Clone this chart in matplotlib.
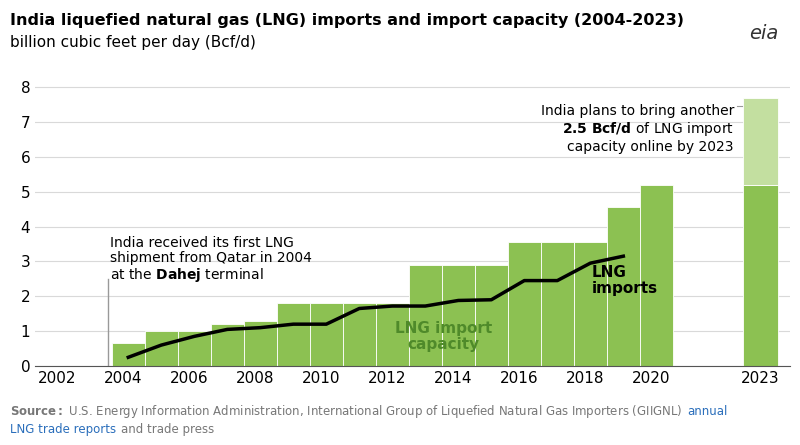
import matplotlib
matplotlib.use("Agg")
import matplotlib.pyplot as plt

years = [2004,2005,2006,2007,2008,2009,2010,2011,2012,2013,2014,2015,2016,2017,2018,2019,2020]
capacity = [0.65,1.0,1.0,1.2,1.3,1.8,1.8,1.8,1.8,2.9,2.9,2.9,3.55,3.55,3.55,4.55,5.2]
imp_years = [2004,2005,2006,2007,2008,2009,2010,2011,2012,2013,2014,2015,2016,2017,2018,2019]
imports = [0.25,0.6,0.85,1.05,1.1,1.2,1.2,1.65,1.72,1.72,1.88,1.9,2.45,2.45,2.95,3.15]
cap2023 = 5.2
planned2023 = 2.5
tick_labels = ["2002","2004","2006","2008","2010","2012","2014","2016","2018","2020","2023"]

POS2023 = 2023.3
green = "#8cc152"
light = "#c3dfa0"

fig = plt.figure(figsize=(8, 4.45), dpi=100)
ax = fig.add_axes([0.044, 0.1775, 0.9435, 0.6425])
ax.set_xlim(2001.33, 2024.2)
ax.set_ylim(0, 8.2)
ax.set_yticks(range(0, 9))
ax.grid(axis="y", color="#d9d9d9", lw=0.8)
ax.set_axisbelow(True)
ax.bar([y + 0.15 for y in years], capacity, width=1.0, color=green, edgecolor="white", lw=0.6)
ax.bar([POS2023], [cap2023], width=1.05, color=green, edgecolor="white", lw=0.6)
ax.bar([POS2023], [planned2023], bottom=[cap2023], width=1.05, color=light, edgecolor="white", lw=0.6)
ax.plot([y + 0.15 for y in imp_years], imports, color="black", lw=2.5)

ticks = [2002,2004,2006,2008,2010,2012,2014,2016,2018,2020,POS2023]
ax.set_xticks(ticks)
ax.set_xticklabels(tick_labels, fontsize=11)
ax.tick_params(axis="y", labelsize=11, length=0)
ax.tick_params(axis="x", length=0)
for s in ["top", "right", "left"]:
    ax.spines[s].set_visible(False)
ax.spines["bottom"].set_color("#555555")

ax.plot([2003.55, 2003.55], [0, 2.5], color="#999999", lw=1)
ax.text(2003.6, 2.35, "India received its first LNG\nshipment from Qatar in 2004\nat the $\\bf{Dahej}$ terminal",
        fontsize=10, va="bottom", ha="left", linespacing=1.1)
ax.text(2013.7, 0.85, "LNG import\ncapacity", fontsize=11, color="#4f8a2a", weight="bold",
        ha="center", va="center", linespacing=1.1)
ax.text(2018.2, 2.45, "LNG\nimports", fontsize=11, color="black", weight="bold",
        ha="left", va="center", linespacing=1.1)
ax.text(2022.5, 6.8, "India plans to bring another\n$\\bf{2.5\\ Bcf/d}$ of LNG import\ncapacity online by 2023",
        fontsize=10, ha="right", va="center", linespacing=1.2)
ax.plot([2022.6, 2022.75], [7.45, 7.45], color="#999999", lw=0.8)

fig.text(0.012, 0.955, "India liquefied natural gas (LNG) imports and import capacity (2004-2023)",
         fontsize=11.5, weight="bold", va="center")
fig.text(0.012, 0.905, "billion cubic feet per day (Bcf/d)", fontsize=11, va="center")
fig.text(0.955, 0.925, "eia", fontsize=14, color="#333333", ha="center", va="center", style="italic")

fig.canvas.draw()
r = fig.canvas.get_renderer()
t1 = fig.text(0.012, 0.075, "$\\bf{Source:}$ U.S. Energy Information Administration, International Group of Liquefied Natural Gas Importers (GIIGNL)",
              fontsize=8.5, color="#777777", va="center")
bb = t1.get_window_extent(r)
fig.text(bb.x1 / 800 + 0.006, 0.075, "annual", fontsize=8.5, color="#2a6ebb", va="center")
t2 = fig.text(0.012, 0.035, "LNG trade reports", fontsize=8.5, color="#2a6ebb", va="center")
bb2 = t2.get_window_extent(r)
fig.text(bb2.x1 / 800 + 0.006, 0.035, "and trade press", fontsize=8.5, color="#777777", va="center")
fig.savefig("out.png", dpi=100)
